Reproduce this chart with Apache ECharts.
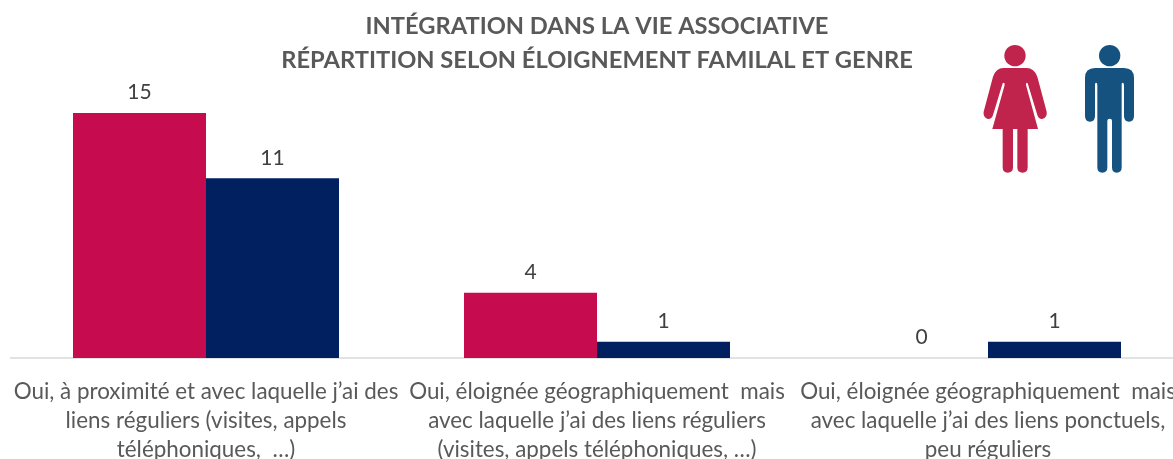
<!DOCTYPE html>
<html>
<head>
<meta charset="utf-8">
<title>Intégration dans la vie associative</title>
<script src="https://cdn.jsdelivr.net/npm/echarts@6/dist/echarts.min.js"></script>
<style>
  html, body { margin: 0; padding: 0; background: #fff; }
  #chart { width: 1173px; height: 459px; }
</style>
</head>
<body>
<div id="chart"></div>
<script>
var categories = [
  'Oui, à proximité et avec laquelle j’ai des\nliens réguliers (visites, appels\ntéléphoniques,  …)',
  'Oui, éloignée géographiquement  mais\navec laquelle j’ai des liens réguliers\n(visites, appels téléphoniques, …)',
  'Oui, éloignée géographiquement  mais\navec laquelle j’ai des liens ponctuels,\npeu réguliers'
];
var femmes = [15, 4, 0];
var hommes = [11, 1, 1];

var FONT = 'Lato, "Open Sans", sans-serif';

var womanBody = 'M130 114 L200 114 Q222 114 232 140 L260 245 Q263 262 247 267 Q236 268 232 255 L203 160 Q198 155 198 165 L234 297 L203 297 L203 412 Q203 428 188 428 Q172 428 172 412 L172 297 L159 297 L159 412 Q159 428 143 428 Q128 428 128 412 L128 297 L97 297 L134 165 Q134 155 128 160 L99 255 Q95 268 84 267 Q68 262 71 245 L99 140 Q108 114 130 114 Z';
var manBody = 'M405 114 L492 114 Q522 114 522 144 L522 258 Q522 275 507 275 Q492 275 492 258 L492 165 Q492 158 487 158 Q485 158 485 165 L485 412 Q485 428 470 428 Q456 428 456 412 L456 272 Q456 266 449 266 Q442 266 442 272 L442 412 Q442 428 427 428 Q412 428 412 412 L412 165 Q412 158 408 158 Q405 158 405 165 L405 258 Q405 275 390 275 Q375 275 375 258 L375 144 Q375 114 405 114 Z';

// the graphic component has no plain path type, so the two bodies are registered as shapes
echarts.graphic.registerShape('womanBody', echarts.graphic.extendPath(womanBody, {}));
echarts.graphic.registerShape('manBody', echarts.graphic.extendPath(manBody, {}));

function barSeries(name, values, color) {
  return {
    name: name,
    type: 'bar',
    data: values,
    barWidth: 133,
    barGap: 0,
    itemStyle: { color: color },
    label: {
      show: true,
      position: 'top',
      distance: 10,
      color: '#404040',
      fontFamily: FONT,
      fontSize: 21
    }
  };
}

var chart = echarts.init(document.getElementById('chart'));
chart.setOption({
  animation: false,
  title: {
    text: 'INTÉGRATION DANS LA VIE ASSOCIATIVE\nRÉPARTITION SELON ÉLOIGNEMENT FAMILAL ET GENRE',
    left: 592,
    top: 4,
    textAlign: 'center',
    textStyle: {
      color: '#595959',
      fontFamily: FONT,
      fontSize: 23.7,
      fontWeight: 'bold',
      lineHeight: 34
    }
  },
  // the third group runs past the right edge in the original
  grid: { left: 10.5, width: 1173, top: 113, height: 245, outerBoundsMode: 'none' },
  xAxis: {
    type: 'category',
    data: categories,
    axisTick: { show: false },
    axisLine: { lineStyle: { color: '#D9D9D9', width: 1.5 } },
    axisLabel: {
      interval: 0,
      hideOverlap: false,
      margin: 19,
      color: '#595959',
      fontFamily: FONT,
      fontSize: 22.4,
      lineHeight: 29
    }
  },
  yAxis: { type: 'value', min: 0, max: 15, show: false },
  series: [
    barSeries('Femmes', femmes, '#C60C4E'),
    barSeries('Hommes', hommes, '#002060')
  ],
  graphic: [
    {
      type: 'group',
      x: 960,
      y: 30,
      scaleX: 1 / 3,
      scaleY: 1 / 3,
      children: [
        { type: 'circle', shape: { cx: 165, cy: 77, r: 32 }, style: { fill: '#C0244C' } },
        { type: 'womanBody', style: { fill: '#C0244C' } },
        { type: 'circle', shape: { cx: 449, cy: 77, r: 32 }, style: { fill: '#15527F' } },
        { type: 'manBody', style: { fill: '#15527F' } }
      ]
    }
  ]
});
</script>
</body>
</html>
